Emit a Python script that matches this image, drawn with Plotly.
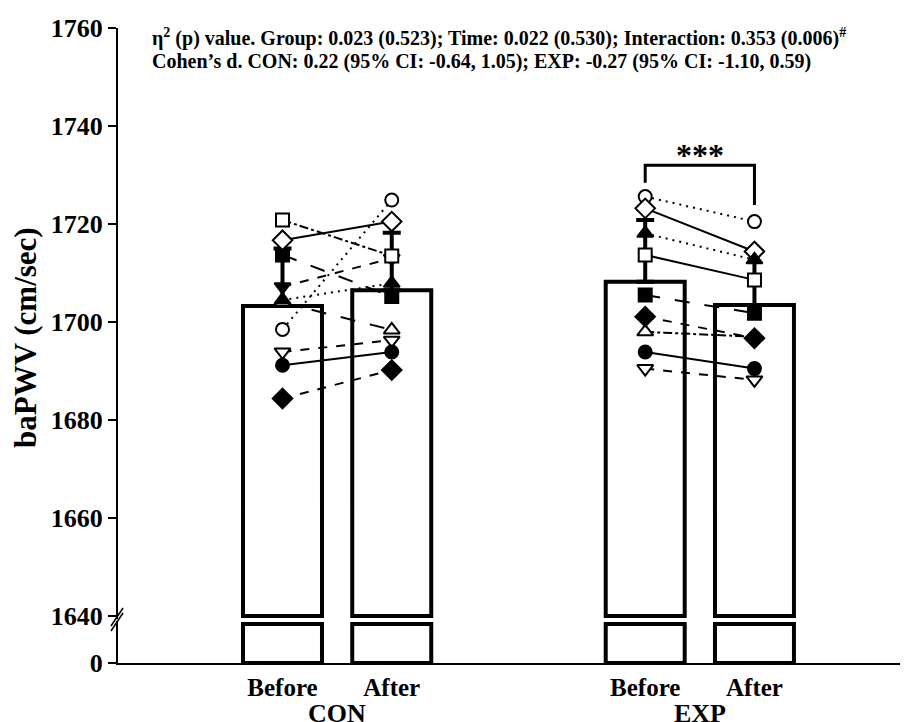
import plotly.graph_objects as go

# ---------------- data ----------------
groups = ["CON", "EXP"]
times = ["Before", "After"]

con_mean = [1703.3, 1706.5]
exp_mean = [1708.2, 1703.5]
con_sd = [11.7, 11.7]
exp_sd = [12.6, 11.0]

# individual subjects (Before, After)
con_before = [1707.2, 1720.8, 1713.7, 1716.7, 1704.0, 1704.5, 1698.5, 1693.9, 1691.2, 1684.4]
con_after = [1713.0, 1713.5, 1705.2, 1720.5, 1698.4, 1707.9, 1724.9, 1696.3, 1693.9, 1690.2]
exp_before = [1725.6, 1723.2, 1718.1, 1713.7, 1698.0, 1701.1, 1705.5, 1690.5, 1693.9]
exp_after = [1720.5, 1714.4, 1712.7, 1708.6, 1697.0, 1696.7, 1701.8, 1688.2, 1690.5]

# significance bracket for EXP (left end, top, right end) and label
exp_bracket = [1728.4, 1732.0, 1723.9]
sig_label = "***"

axis_break = 1640
y_ticks_upper = [1640, 1660, 1680, 1700, 1720, 1740, 1760]

title_line1 = "η<sup>2</sup> (p) value. Group: 0.023 (0.523); Time: 0.022 (0.530); Interaction: 0.353 (0.006)<sup>#</sup>"
title_line2 = "Cohen’s d. CON: 0.22 (95% CI: -0.64, 1.05); EXP: -0.27 (95% CI: -1.10, 0.59)"

# ---------------- styles ----------------
con_symbols = ["triangle-down", "square", "square", "diamond", "triangle-up", "triangle-up",
               "circle", "triangle-down", "circle", "diamond"]
con_filled = [True, False, True, False, False, True, False, False, True, True]
con_dash = ["dash", "dashdot", "longdash", "solid", "longdash", "2px,5px", "2px,5px", "dash", "solid", "dash"]

exp_symbols = ["circle", "diamond", "triangle-up", "square", "triangle-up", "diamond", "square",
               "triangle-down", "circle"]
exp_filled = [False, False, True, False, False, True, True, False, True]
exp_dash = ["2px,5px", "solid", "2px,5px", "solid", "dashdot", "dash", "longdash", "dash", "solid"]

FONT = "Liberation Serif"
group_gap = 3.32
pos = {}
for gi, g in enumerate(groups):
    for ti, t in enumerate(times):
        pos[(g, t)] = gi * group_gap + ti
xs = [pos[(g, t)] for g in groups for t in times]
means = con_mean + exp_mean
sds = con_sd + exp_sd

fig = go.Figure()

bar_style = dict(marker=dict(color="white", line=dict(color="black", width=4)), width=0.723,
                 showlegend=False, hoverinfo="skip")
# upper part of bars
fig.add_trace(go.Bar(x=xs, y=[m - axis_break for m in means], base=axis_break, yaxis="y",
                     error_y=dict(type="data", array=sds, arrayminus=[0] * len(sds), symmetric=False,
                                  thickness=4, width=9, color="black"),
                     **bar_style))
# lower part (below the break)
fig.add_trace(go.Bar(x=xs, y=[min(m, axis_break) for m in means], yaxis="y2", **bar_style))


def add_subjects(g, before, after, symbols, filled, dashes):
    for b, a, s, f, d in zip(before, after, symbols, filled, dashes):
        size = 15 if s == "diamond" else (14 if "triangle" in s else 13)
        fig.add_trace(go.Scatter(
            x=[pos[(g, "Before")], pos[(g, "After")]], y=[b, a], mode="lines+markers", yaxis="y",
            line=dict(color="black", width=2, dash=d),
            marker=dict(symbol=s, size=size, color="black" if f else "white",
                        line=dict(color="black", width=2)),
            showlegend=False, hoverinfo="skip", cliponaxis=False))


add_subjects("CON", con_before, con_after, con_symbols, con_filled, con_dash)
add_subjects("EXP", exp_before, exp_after, exp_symbols, exp_filled, exp_dash)

# significance bracket
xb, xa = pos[("EXP", "Before")], pos[("EXP", "After")]
fig.add_trace(go.Scatter(x=[xb, xb, xa, xa], y=[exp_bracket[0], exp_bracket[1], exp_bracket[1], exp_bracket[2]],
                         mode="lines", line=dict(color="black", width=3), yaxis="y",
                         showlegend=False, hoverinfo="skip"))

# The page body has an 8px margin: the plot area is laid out in screen pixels
# (left 118, right 908, top 28, bottom 663) and shifted back by 8px.
OFF = 8
SL, SR, ST, SB = 118, 908, 28, 663
FW, FH = 908, 722
PW, PH = FW - (SL - OFF), SB - ST


def px(xs_):
    return (xs_ - SL) / PW


def py(ys_):
    return (SB - ys_) / PH


annotations = [
    dict(x=(xb + xa) / 2, y=exp_bracket[1], xref="x", yref="y", text="<b>" + sig_label + "</b>", showarrow=False,
         font=dict(family=FONT, size=32, color="black"), yanchor="middle", yshift=10),
    dict(x=px(150), y=py(38), xref="paper", yref="paper", text="<b>" + title_line1 + "</b>", showarrow=False,
         xanchor="left", yanchor="middle", font=dict(family=FONT, size=20, color="black")),
    dict(x=px(150), y=py(61), xref="paper", yref="paper", text="<b>" + title_line2 + "</b>", showarrow=False,
         xanchor="left", yanchor="middle", font=dict(family=FONT, size=20, color="black")),
    dict(x=px(25), y=py(338), xref="paper", yref="paper", text="<b>baPWV (cm/sec)</b>", showarrow=False,
         textangle=-90, xanchor="center", yanchor="middle", font=dict(family=FONT, size=31, color="black")),
]
for g in groups:
    annotations.append(dict(x=(pos[(g, "Before")] + pos[(g, "After")]) / 2, y=py(713), xref="x", yref="paper",
                            text="<b>" + g + "</b>", showarrow=False, yanchor="middle",
                            font=dict(family=FONT, size=26, color="black")))

# axis-break slashes
shapes = [
    dict(type="line", xref="paper", yref="paper", x0=px(111), y0=py(631), x1=px(123), y1=py(613),
         line=dict(color="black", width=1.5)),
    dict(type="line", xref="paper", yref="paper", x0=px(111), y0=py(626), x1=px(123), y1=py(608),
         line=dict(color="black", width=1.5)),
]

unit_px = 109.25
x0 = -(282.5 - SL) / unit_px
x1 = x0 + PW / unit_px

tickfont = dict(family=FONT, size=26, color="black")
fig.update_layout(
    width=FW, height=FH, margin=dict(l=SL - OFF, r=0, t=ST - OFF, b=FH - (SB - OFF)),
    paper_bgcolor="white", plot_bgcolor="white", barmode="overlay",
    xaxis=dict(domain=[0, 1], range=[x0, x1], anchor="y2", tickvals=xs,
               ticktext=["<b>" + t + "</b>" for g in groups for t in times],
               showline=True, linecolor="black", linewidth=2, ticks="", showgrid=False, zeroline=False,
               tickfont=dict(family=FONT, size=25, color="black"), ticklabelstandoff=1),
    yaxis=dict(domain=[0.07, 1], range=[1639.5, 1760], anchor="x", tickvals=y_ticks_upper,
               ticktext=["<b>%d</b>" % v for v in y_ticks_upper],
               showline=True, linecolor="black", linewidth=2, ticks="outside", ticklen=8, tickwidth=2,
               tickcolor="black", showgrid=False, zeroline=False, tickfont=tickfont),
    yaxis2=dict(domain=[0, 0.066], range=[0, 1760], anchor="x", tickvals=[0], ticktext=["<b>0</b>"],
                showline=True, linecolor="black", linewidth=2, ticks="outside", ticklen=8, tickwidth=2,
                tickcolor="black", showgrid=False, zeroline=False, tickfont=tickfont),
    annotations=annotations, shapes=shapes,
)

fig.write_html("out.html")
